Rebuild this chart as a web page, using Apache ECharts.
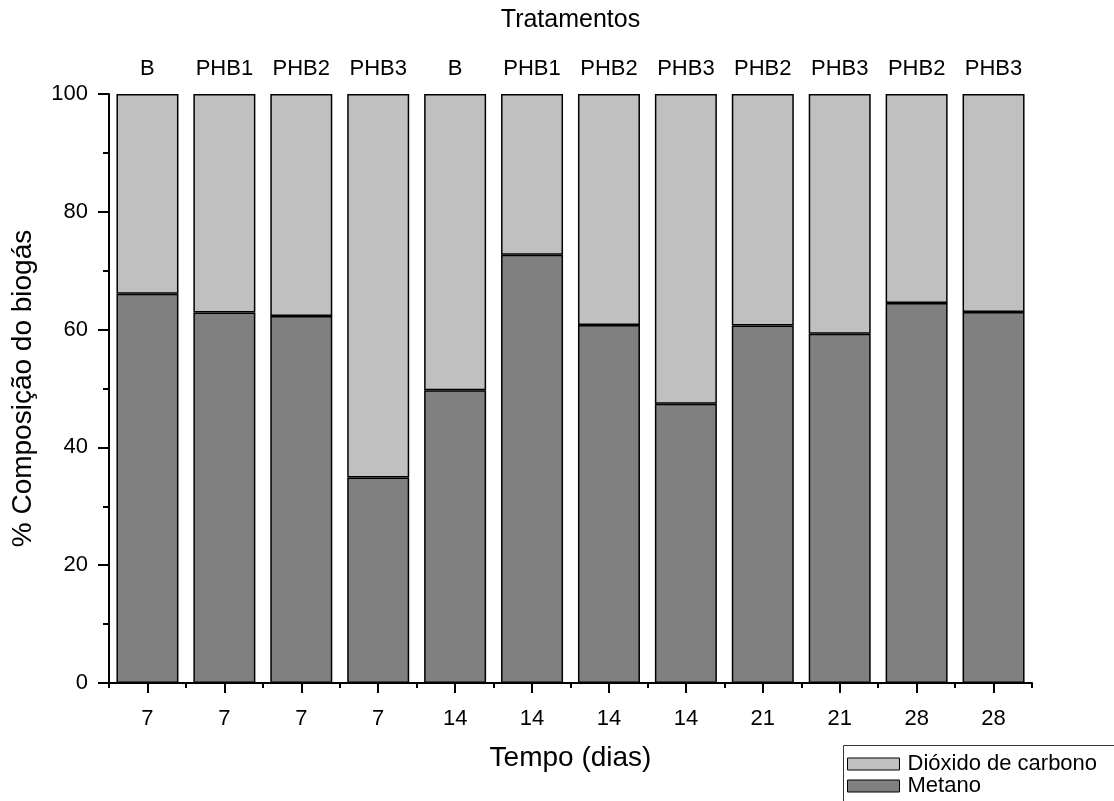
<!DOCTYPE html>
<html>
<head>
<meta charset="utf-8">
<script src="https://cdn.jsdelivr.net/npm/echarts@6/dist/echarts.min.js"></script>
<style>
  html, body { margin: 0; padding: 0; background: #fff; }
  #chart { width: 1114px; height: 801px; }
</style>
</head>
<body>
<div id="chart"></div>
<script>
// Sampling day for each column
const dias = ['7', '7', '7', '7', '14', '14', '14', '14', '21', '21', '28', '28'];
// Treatment for each column
const tratamentos = ['B', 'PHB1', 'PHB2', 'PHB3', 'B', 'PHB1', 'PHB2', 'PHB3', 'PHB2', 'PHB3', 'PHB2', 'PHB3'];
// Methane share (%) of the biogas
const metano = [66.1, 62.9, 62.3, 34.9, 49.7, 72.7, 60.8, 47.4, 60.7, 59.3, 64.5, 63.0];
// Carbon dioxide share (%) – remainder of the composition
const dioxido = [33.9, 37.1, 37.7, 65.1, 50.3, 27.3, 39.2, 52.6, 39.3, 40.7, 35.5, 37.0];
const yTicks = [0, 20, 40, 60, 80, 100];

const FONT = '"Liberation Sans", Arial, sans-serif';
const idx = dias.map((_, i) => i);

const chart = echarts.init(document.getElementById('chart'), null, { renderer: 'canvas' });

chart.setOption({
  animation: false,
  backgroundColor: '#fff',
  textStyle: { fontFamily: FONT, color: '#000' },
  grid: { left: 109, right: 82, top: 94, bottom: 118, containLabel: false },
  // frame around the legend, running past the lower right corner
  graphic: [{
    type: 'rect',
    left: 841,
    top: 743,
    shape: { width: 400, height: 120 },
    style: { fill: 'none', stroke: '#333', lineWidth: 1 },
    z: 0
  }],
  legend: {
    orient: 'vertical',
    left: 841,
    top: 743,
    padding: [10, 0, 0, 6],
    itemGap: 0,
    itemWidth: 52,
    itemHeight: 12,
    icon: 'rect',
    itemStyle: { borderColor: '#000', borderWidth: 1 },
    textStyle: { fontFamily: FONT, fontSize: 22, color: '#000', lineHeight: 21, padding: [0, 0, 0, 3] },
    data: ['Dióxido de carbono', 'Metano']
  },
  xAxis: [
    {
      type: 'category',
      data: idx,
      position: 'bottom',
      axisLine: { show: true, lineStyle: { color: '#000', width: 2 } },
      axisTick: { show: true, alignWithLabel: true, length: 10, lineStyle: { color: '#000', width: 2 } },
      axisLabel: { fontFamily: FONT, fontSize: 22, color: '#000', margin: 25, formatter: v => dias[v] },
      name: 'Tempo (dias)',
      nameLocation: 'middle',
      nameGap: 61,
      nameTextStyle: { fontFamily: FONT, fontSize: 28, color: '#000' },
      splitLine: { show: false }
    },
    {
      // category boundaries as short ticks
      type: 'category',
      data: idx,
      position: 'bottom',
      axisLine: { show: false },
      axisTick: { show: true, alignWithLabel: false, length: 5, lineStyle: { color: '#000', width: 2 } },
      axisLabel: { show: false },
      splitLine: { show: false }
    },
    {
      type: 'category',
      data: idx,
      position: 'top',
      axisLine: { show: false },
      axisTick: { show: false },
      axisLabel: { fontFamily: FONT, fontSize: 22, color: '#000', margin: 14, formatter: v => tratamentos[v] },
      name: 'Tratamentos',
      nameLocation: 'middle',
      nameGap: 61,
      nameTextStyle: { fontFamily: FONT, fontSize: 25, color: '#000' },
      splitLine: { show: false }
    }
  ],
  yAxis: {
    type: 'value',
    min: yTicks[0],
    max: yTicks[yTicks.length - 1],
    interval: 20,
    axisLine: { show: true, lineStyle: { color: '#000', width: 2 } },
    axisTick: { show: true, length: 11, lineStyle: { color: '#000', width: 2 } },
    minorTick: { show: true, splitNumber: 2, length: 6, lineStyle: { color: '#000', width: 2 } },
    axisLabel: { fontFamily: FONT, fontSize: 22, color: '#000', margin: 21 },
    splitLine: { show: false },
    name: '% Composição do biogás',
    nameLocation: 'middle',
    nameGap: 72,
    nameTextStyle: { fontFamily: FONT, fontSize: 28, color: '#000' }
  },
  series: [
    {
      name: 'Metano',
      type: 'bar',
      stack: 'biogas',
      xAxisIndex: 0,
      barWidth: 62,
      data: metano,
      itemStyle: { color: '#808080', borderColor: '#000', borderWidth: 1.5 }
    },
    {
      name: 'Dióxido de carbono',
      type: 'bar',
      stack: 'biogas',
      xAxisIndex: 0,
      barWidth: 62,
      data: dioxido,
      itemStyle: { color: '#c0c0c0', borderColor: '#000', borderWidth: 1.5 }
    }
  ]
});
</script>
</body>
</html>
